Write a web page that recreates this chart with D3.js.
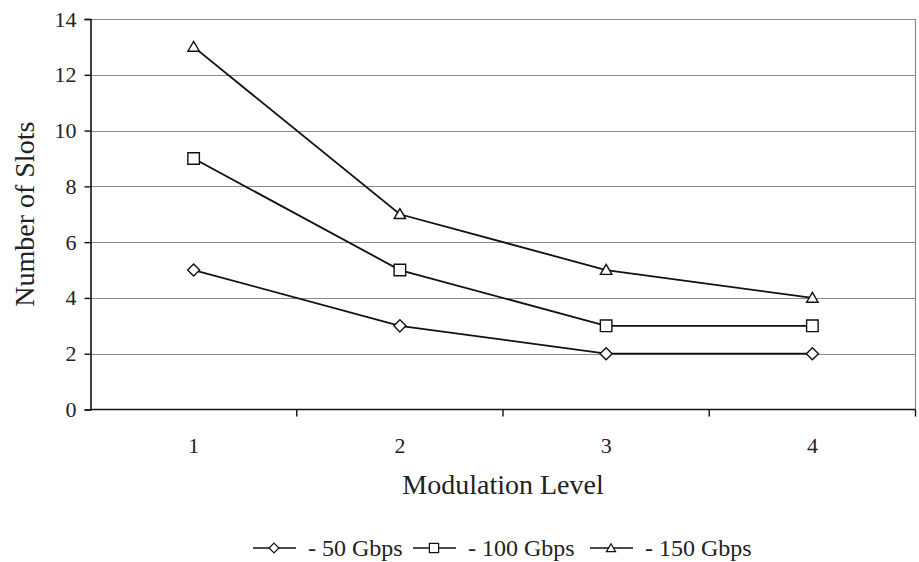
<!DOCTYPE html>
<html><head><meta charset="utf-8">
<script src="https://cdn.jsdelivr.net/npm/d3@7"></script>
<style>body{margin:0;background:#fff}svg{display:block}</style>
</head><body><svg id="c" width="919" height="562"></svg>
<script>
const categories = ["1","2","3","4"];
const yTicks = [0,2,4,6,8,10,12,14];
const seriesNames = ["- 50 Gbps","- 100 Gbps","- 150 Gbps"];
const seriesMarkers = ["diamond","square","triangle"];
const values50 = [5,3,2,2];
const values100 = [9,5,3,3];
const values150 = [13,7,5,4];
const seriesValues = [values50, values100, values150];

const FONT = "'Liberation Serif', 'Times New Roman', serif";
const svg = d3.select("#c");
const L = 90.5, R = 915.5, T = 19, B = 409.5;
const x = d3.scaleBand().domain(categories).range([L,R]);
const y = d3.scaleLinear().domain([0,14]).range([B,T]);

svg.append("g").selectAll("line").data(yTicks.filter(d=>d>0)).join("line")
  .attr("x1",L).attr("x2",R).attr("y1",d=>Math.round(y(d))+0.5).attr("y2",d=>Math.round(y(d))+0.5)
  .attr("stroke","#8a8a8a").attr("stroke-width",1.2);
svg.append("line").attr("x1",R).attr("x2",R).attr("y1",T).attr("y2",B).attr("stroke","#8a8a8a").attr("stroke-width",1.2);

const yAxis = d3.axisLeft(y).tickValues(yTicks).tickSize(6).tickPadding(8);
const gy = svg.append("g").attr("transform",`translate(${L},0)`).call(yAxis);
gy.select(".domain").attr("stroke","#111").attr("stroke-width",1.6);
gy.selectAll(".tick line").attr("stroke","#111").attr("stroke-width",1.4);
gy.selectAll("text").attr("fill","#222").style("font-family",FONT).style("font-size","22px");

const gx = svg.append("g").attr("transform",`translate(0,${B})`);
gx.append("line").attr("x1",L).attr("x2",R).attr("stroke","#111").attr("stroke-width",1.6);
const boundaries = categories.map(c=>x(c)).slice(1).concat([R]);
gx.selectAll("line.tk").data(boundaries).join("line").attr("class","tk")
  .attr("x1",d=>d).attr("x2",d=>d).attr("y1",0).attr("y2",7).attr("stroke","#111").attr("stroke-width",1.4);
gx.selectAll("text").data(categories).join("text")
  .attr("x",d=>x(d)+x.bandwidth()/2).attr("y",43).attr("text-anchor","middle")
  .style("font-family",FONT).style("font-size","22px").attr("fill","#222").text(d=>d);

svg.append("text").attr("x",(L+R)/2).attr("y",494).attr("text-anchor","middle")
  .style("font-family",FONT).style("font-size","28px").attr("fill","#222").text("Modulation Level");
svg.append("text").attr("transform",`translate(34,${(T+B)/2}) rotate(-90)`).attr("text-anchor","middle")
  .style("font-family",FONT).style("font-size","28px").attr("fill","#222").text("Number of Slots");

function markerPath(type, s){
  if(type==="diamond") return d3.symbol().type(d3.symbolDiamond2).size(s*s*0.6)();
  if(type==="square") return d3.symbol().type(d3.symbolSquare).size(s*s*0.85)();
  return d3.symbol().type(d3.symbolTriangle2).size(s*s*0.6)();
}
const line = d3.line().x((d,i)=>x(categories[i])+x.bandwidth()/2).y(d=>y(d));
seriesValues.forEach((vals,si)=>{
  const g = svg.append("g");
  g.append("path").attr("d",line(vals)).attr("fill","none").attr("stroke","#111").attr("stroke-width",1.8);
  g.selectAll("path.m").data(vals).join("path").attr("class","m")
    .attr("transform",(d,i)=>`translate(${x(categories[i])+x.bandwidth()/2},${y(d)+(seriesMarkers[si]==="triangle"?1:0)})`)
    .attr("d",markerPath(seriesMarkers[si],12.5)).attr("fill","#fff").attr("stroke","#111").attr("stroke-width",1.4);
});

const legendX = [253, 413, 590];
const legY = 548;
seriesNames.forEach((n,i)=>{
  const g = svg.append("g").attr("transform",`translate(${legendX[i]},${legY})`);
  g.append("line").attr("x1",0).attr("x2",43).attr("stroke","#111").attr("stroke-width",1.6);
  g.append("path").attr("transform",`translate(21,${seriesMarkers[i]==="triangle"?1:0})`).attr("d",markerPath(seriesMarkers[i],10))
    .attr("fill","#fff").attr("stroke","#111").attr("stroke-width",1.2);
  g.append("text").attr("x",55).attr("y",8).style("font-family",FONT).style("font-size","24px").attr("fill","#222").text(n);
});
</script></body></html>
